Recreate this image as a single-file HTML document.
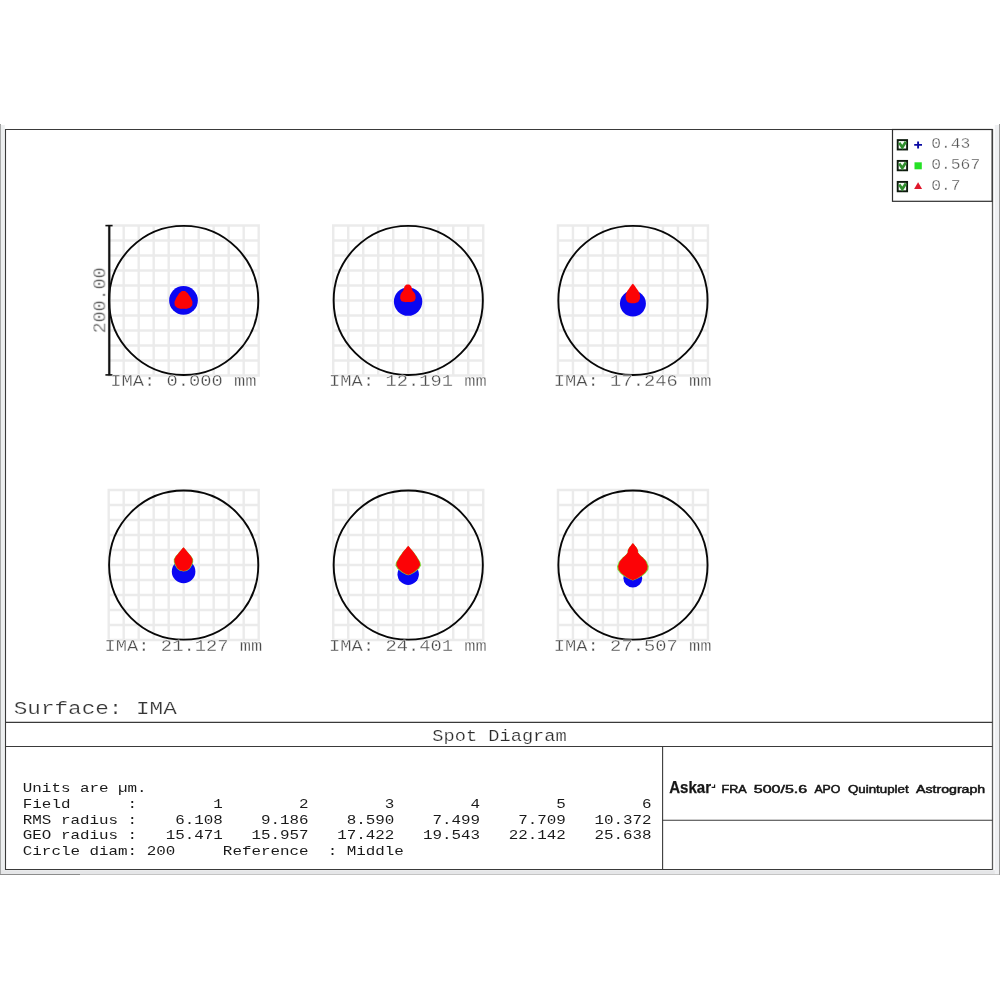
<!DOCTYPE html>
<html lang="en">
<head>
<meta charset="utf-8">
<title>Spot Diagram</title>
<style>
html,body{margin:0;padding:0;background:#fff;}
body{width:1000px;height:1000px;overflow:hidden;position:relative;}
svg{position:absolute;left:0;top:0;display:block;}
text{font-family:"Liberation Mono", "DejaVu Sans Mono", monospace;white-space:pre;}
#labels,#legendtext,#captions,#table,#brand{filter:url(#gs);}
.sans{font-family:"Liberation Sans", "DejaVu Sans", sans-serif;}
</style>
</head>
<body>
<svg width="1000" height="1000" viewBox="0 0 1000 1000">
<defs><filter id="gs" x="0" y="0" width="1000" height="1000" filterUnits="userSpaceOnUse" color-interpolation-filters="sRGB"><feColorMatrix type="saturate" values="0"/></filter></defs>

<g id="window-border">
<rect x="0" y="124" width="0.9" height="751" fill="#979797"/>
<rect x="0.9" y="125" width="3.9" height="749" fill="#edeff0"/>
<rect x="1" y="870.2" width="998" height="3.8" fill="#e5e6e8"/>
<rect x="0" y="874" width="80" height="1" fill="#8c8c8c"/>
<rect x="80" y="874" width="919" height="1" fill="#c4c4c4"/>
<rect x="994.8" y="125" width="4.2" height="749" fill="#eff0f2"/>
<rect x="999" y="124" width="1" height="751" fill="#9a9a9a"/>
</g>
<g id="frame" fill="none" stroke="#3a3a3a" stroke-width="1.1">
<path d="M992.5 129.5H5.5V869.5H992.5"/>
<line x1="992.5" y1="129.0" x2="992.5" y2="870.0" stroke="#5a5a5a" stroke-width="1.3"/>
<line x1="5.5" y1="722.4" x2="992.5" y2="722.4"/>
<line x1="5.5" y1="746.5" x2="992.5" y2="746.5"/>
<line x1="662.6" y1="746.5" x2="662.6" y2="869.5"/>
<line x1="662.6" y1="820.3" x2="992.5" y2="820.3"/>
</g>
<g id="field1">
<path d="M108.70 224.25V376.65M107.50 225.45H259.90M123.70 224.25V376.65M107.50 240.45H259.90M138.70 224.25V376.65M107.50 255.45H259.90M153.70 224.25V376.65M107.50 270.45H259.90M168.70 224.25V376.65M107.50 285.45H259.90M183.70 224.25V376.65M107.50 300.45H259.90M198.70 224.25V376.65M107.50 315.45H259.90M213.70 224.25V376.65M107.50 330.45H259.90M228.70 224.25V376.65M107.50 345.45H259.90M243.70 224.25V376.65M107.50 360.45H259.90M258.70 224.25V376.65M107.50 375.45H259.90" stroke="#ebebeb" stroke-width="2.4" fill="none"/>
<circle cx="183.70" cy="300.45" r="74.6" fill="none" stroke="#080808" stroke-width="1.9"/>
</g>
<g id="field2">
<path d="M333.25 224.25V376.65M332.05 225.45H484.45M348.25 224.25V376.65M332.05 240.45H484.45M363.25 224.25V376.65M332.05 255.45H484.45M378.25 224.25V376.65M332.05 270.45H484.45M393.25 224.25V376.65M332.05 285.45H484.45M408.25 224.25V376.65M332.05 300.45H484.45M423.25 224.25V376.65M332.05 315.45H484.45M438.25 224.25V376.65M332.05 330.45H484.45M453.25 224.25V376.65M332.05 345.45H484.45M468.25 224.25V376.65M332.05 360.45H484.45M483.25 224.25V376.65M332.05 375.45H484.45" stroke="#ebebeb" stroke-width="2.4" fill="none"/>
<circle cx="408.25" cy="300.45" r="74.6" fill="none" stroke="#080808" stroke-width="1.9"/>
</g>
<g id="field3">
<path d="M557.95 224.25V376.65M556.75 225.45H709.15M572.95 224.25V376.65M556.75 240.45H709.15M587.95 224.25V376.65M556.75 255.45H709.15M602.95 224.25V376.65M556.75 270.45H709.15M617.95 224.25V376.65M556.75 285.45H709.15M632.95 224.25V376.65M556.75 300.45H709.15M647.95 224.25V376.65M556.75 315.45H709.15M662.95 224.25V376.65M556.75 330.45H709.15M677.95 224.25V376.65M556.75 345.45H709.15M692.95 224.25V376.65M556.75 360.45H709.15M707.95 224.25V376.65M556.75 375.45H709.15" stroke="#ebebeb" stroke-width="2.4" fill="none"/>
<circle cx="632.95" cy="300.45" r="74.6" fill="none" stroke="#080808" stroke-width="1.9"/>
</g>
<g id="field4">
<path d="M108.70 488.85V641.25M107.50 490.05H259.90M123.70 488.85V641.25M107.50 505.05H259.90M138.70 488.85V641.25M107.50 520.05H259.90M153.70 488.85V641.25M107.50 535.05H259.90M168.70 488.85V641.25M107.50 550.05H259.90M183.70 488.85V641.25M107.50 565.05H259.90M198.70 488.85V641.25M107.50 580.05H259.90M213.70 488.85V641.25M107.50 595.05H259.90M228.70 488.85V641.25M107.50 610.05H259.90M243.70 488.85V641.25M107.50 625.05H259.90M258.70 488.85V641.25M107.50 640.05H259.90" stroke="#ebebeb" stroke-width="2.4" fill="none"/>
<circle cx="183.70" cy="565.05" r="74.6" fill="none" stroke="#080808" stroke-width="1.9"/>
</g>
<g id="field5">
<path d="M333.25 488.85V641.25M332.05 490.05H484.45M348.25 488.85V641.25M332.05 505.05H484.45M363.25 488.85V641.25M332.05 520.05H484.45M378.25 488.85V641.25M332.05 535.05H484.45M393.25 488.85V641.25M332.05 550.05H484.45M408.25 488.85V641.25M332.05 565.05H484.45M423.25 488.85V641.25M332.05 580.05H484.45M438.25 488.85V641.25M332.05 595.05H484.45M453.25 488.85V641.25M332.05 610.05H484.45M468.25 488.85V641.25M332.05 625.05H484.45M483.25 488.85V641.25M332.05 640.05H484.45" stroke="#ebebeb" stroke-width="2.4" fill="none"/>
<circle cx="408.25" cy="565.05" r="74.6" fill="none" stroke="#080808" stroke-width="1.9"/>
</g>
<g id="field6">
<path d="M557.95 488.85V641.25M556.75 490.05H709.15M572.95 488.85V641.25M556.75 505.05H709.15M587.95 488.85V641.25M556.75 520.05H709.15M602.95 488.85V641.25M556.75 535.05H709.15M617.95 488.85V641.25M556.75 550.05H709.15M632.95 488.85V641.25M556.75 565.05H709.15M647.95 488.85V641.25M556.75 580.05H709.15M662.95 488.85V641.25M556.75 595.05H709.15M677.95 488.85V641.25M556.75 610.05H709.15M692.95 488.85V641.25M556.75 625.05H709.15M707.95 488.85V641.25M556.75 640.05H709.15" stroke="#ebebeb" stroke-width="2.4" fill="none"/>
<circle cx="632.95" cy="565.05" r="74.6" fill="none" stroke="#080808" stroke-width="1.9"/>
</g>
<g id="scalebar" stroke="#111" fill="none">
<line x1="109.3" y1="225.3" x2="109.3" y2="375.2" stroke-width="2.2"/>
<line x1="105.4" y1="225.6" x2="112.6" y2="225.6" stroke-width="1.6"/>
<line x1="105.4" y1="374.9" x2="112.6" y2="374.9" stroke-width="1.6"/>
</g>
<g id="spots">
<circle cx="183.5" cy="300.4" r="14.35" fill="#0a06f2"/>
<path d="M183.50 291.10C185.50 291.10 184.63 290.83 186.50 292.20C188.37 293.57 187.40 292.67 189.10 295.20C190.80 297.73 190.50 297.07 191.60 299.80C192.70 302.53 192.57 301.13 192.40 303.40C192.23 305.67 192.67 304.90 191.10 306.60C189.53 308.30 190.23 307.77 187.70 308.50C185.17 309.23 186.30 308.80 183.50 308.80C180.70 308.80 181.83 309.23 179.30 308.50C176.77 307.77 177.47 308.30 175.90 306.60C174.33 304.90 174.77 305.67 174.60 303.40C174.43 301.13 174.30 302.53 175.40 299.80C176.50 297.07 176.20 297.73 177.90 295.20C179.60 292.67 178.63 293.57 180.50 292.20C182.37 290.83 181.50 291.10 183.50 291.10Z" fill="#fc0306"/>
<circle cx="408.1" cy="301.6" r="14.2" fill="#0a06f2"/>
<path d="M407.90 284.50C409.63 284.50 409.17 284.30 410.50 285.60C411.83 286.90 411.13 286.60 411.90 288.40C412.67 290.20 411.87 289.33 412.80 291.00C413.73 292.67 413.80 291.53 414.70 293.40C415.60 295.27 415.37 294.53 415.50 296.60C415.63 298.67 415.90 297.97 415.10 299.60C414.30 301.23 415.50 300.67 413.10 301.50C410.70 302.33 411.37 302.10 407.90 302.10C404.43 302.10 405.10 302.33 402.70 301.50C400.30 300.67 401.50 301.23 400.70 299.60C399.90 297.97 400.17 298.67 400.30 296.60C400.43 294.53 400.20 295.27 401.10 293.40C402.00 291.53 402.07 292.67 403.00 291.00C403.93 289.33 403.13 290.20 403.90 288.40C404.67 286.60 403.97 286.90 405.30 285.60C406.63 284.30 406.17 284.50 407.90 284.50Z" fill="#fc0306"/>
<circle cx="632.9" cy="303.6" r="13.0" fill="#0a06f2"/>
<path d="M632.85 283.80C633.38 284.33 633.22 283.83 634.45 285.40C635.68 286.97 634.95 285.97 636.55 288.50C638.15 291.03 638.12 290.10 639.25 293.00C640.38 295.90 640.02 294.73 639.95 297.20C639.88 299.67 640.15 298.60 639.05 300.40C637.95 302.20 638.72 301.63 636.65 302.60C634.58 303.57 635.38 303.30 632.85 303.30C630.32 303.30 631.12 303.57 629.05 302.60C626.98 301.63 627.75 302.20 626.65 300.40C625.55 298.60 625.82 299.67 625.75 297.20C625.68 294.73 625.32 295.90 626.45 293.00C627.58 290.10 627.55 291.03 629.15 288.50C630.75 285.97 630.02 286.97 631.25 285.40C632.48 283.83 632.32 284.33 632.85 283.80Z" fill="#fc0306"/>
<circle cx="183.6" cy="571.5" r="11.8" fill="#0a06f2"/>
<path d="M183.50 547.20C184.09 547.86 183.57 547.13 185.30 549.20C187.03 551.27 186.57 550.67 188.70 553.40C190.83 556.13 190.43 555.00 191.70 557.40C192.97 559.80 192.43 558.53 192.50 560.60C192.57 562.67 192.50 561.73 191.90 563.60C191.30 565.47 192.00 564.20 190.70 566.20C189.40 568.20 190.40 567.93 188.00 569.60C185.60 571.27 184.99 570.67 183.50 571.20C182.01 570.67 181.40 571.27 179.00 569.60C176.60 567.93 177.60 568.20 176.30 566.20C175.00 564.20 175.70 565.47 175.10 563.60C174.50 561.73 174.43 562.67 174.50 560.60C174.57 558.53 174.03 559.80 175.30 557.40C176.57 555.00 176.17 556.13 178.30 553.40C180.43 550.67 179.97 551.27 181.70 549.20C183.43 547.13 182.91 547.86 183.50 547.20Z" fill="#7ddc3c" transform="translate(183.5,0.35) scale(1.075,1) translate(-183.5,0)"/>
<path d="M183.50 547.20C184.09 547.86 183.57 547.13 185.30 549.20C187.03 551.27 186.57 550.67 188.70 553.40C190.83 556.13 190.43 555.00 191.70 557.40C192.97 559.80 192.43 558.53 192.50 560.60C192.57 562.67 192.50 561.73 191.90 563.60C191.30 565.47 192.00 564.20 190.70 566.20C189.40 568.20 190.40 567.93 188.00 569.60C185.60 571.27 184.99 570.67 183.50 571.20C182.01 570.67 181.40 571.27 179.00 569.60C176.60 567.93 177.60 568.20 176.30 566.20C175.00 564.20 175.70 565.47 175.10 563.60C174.50 561.73 174.43 562.67 174.50 560.60C174.57 558.53 174.03 559.80 175.30 557.40C176.57 555.00 176.17 556.13 178.30 553.40C180.43 550.67 179.97 551.27 181.70 549.20C183.43 547.13 182.91 547.86 183.50 547.20Z" fill="#fc0306"/>
<circle cx="408.2" cy="574.3" r="10.7" fill="#0a06f2"/>
<path d="M408.25 545.80C408.98 546.66 408.38 545.87 410.45 548.40C412.52 550.93 411.92 549.80 414.45 553.40C416.98 557.00 416.22 555.73 418.05 559.20C419.88 562.67 419.58 561.27 419.95 563.80C420.32 566.33 420.15 564.87 419.15 566.80C418.15 568.73 419.22 567.50 416.95 569.60C414.68 571.70 415.25 571.30 412.35 573.10C409.45 574.90 409.60 574.37 408.25 575.00C406.90 574.37 407.05 574.90 404.15 573.10C401.25 571.30 401.82 571.70 399.55 569.60C397.28 567.50 398.35 568.73 397.35 566.80C396.35 564.87 396.18 566.33 396.55 563.80C396.92 561.27 396.62 562.67 398.45 559.20C400.28 555.73 399.52 557.00 402.05 553.40C404.58 549.80 403.98 550.93 406.05 548.40C408.12 545.87 407.52 546.66 408.25 545.80Z" fill="#7ddc3c" transform="translate(408.25,0.35) scale(1.075,1) translate(-408.25,0)"/>
<path d="M408.25 545.80C408.98 546.66 408.38 545.87 410.45 548.40C412.52 550.93 411.92 549.80 414.45 553.40C416.98 557.00 416.22 555.73 418.05 559.20C419.88 562.67 419.58 561.27 419.95 563.80C420.32 566.33 420.15 564.87 419.15 566.80C418.15 568.73 419.22 567.50 416.95 569.60C414.68 571.70 415.25 571.30 412.35 573.10C409.45 574.90 409.60 574.37 408.25 575.00C406.90 574.37 407.05 574.90 404.15 573.10C401.25 571.30 401.82 571.70 399.55 569.60C397.28 567.50 398.35 568.73 397.35 566.80C396.35 564.87 396.18 566.33 396.55 563.80C396.92 561.27 396.62 562.67 398.45 559.20C400.28 555.73 399.52 557.00 402.05 553.40C404.58 549.80 403.98 550.93 406.05 548.40C408.12 545.87 407.52 546.66 408.25 545.80Z" fill="#fc0306"/>
<circle cx="632.8" cy="578.2" r="9.4" fill="#0a06f2"/>
<path d="M632.90 542.90C633.49 543.66 633.43 543.50 634.70 545.20C635.97 546.90 635.63 546.20 636.70 548.00C637.77 549.80 637.23 548.80 637.90 550.60C638.57 552.40 636.60 550.53 638.70 553.40C640.80 556.27 641.47 555.67 644.20 559.20C646.93 562.73 645.83 561.10 646.90 564.00C647.97 566.90 647.67 565.57 647.40 567.90C647.13 570.23 647.53 568.87 646.10 571.00C644.67 573.13 645.57 572.17 643.10 574.30C640.63 576.43 642.10 575.43 638.70 577.40C635.30 579.37 634.81 579.28 632.90 580.20C630.99 579.28 630.50 579.37 627.10 577.40C623.70 575.43 625.17 576.43 622.70 574.30C620.23 572.17 621.13 573.13 619.70 571.00C618.27 568.87 618.67 570.23 618.40 567.90C618.13 565.57 617.83 566.90 618.90 564.00C619.97 561.10 618.87 562.73 621.60 559.20C624.33 555.67 625.00 556.27 627.10 553.40C629.20 550.53 627.23 552.40 627.90 550.60C628.57 548.80 628.03 549.80 629.10 548.00C630.17 546.20 629.83 546.90 631.10 545.20C632.37 543.50 632.31 543.66 632.90 542.90Z" fill="#7ddc3c" transform="translate(632.9,0.35) scale(1.075,1) translate(-632.9,0)"/>
<path d="M632.90 542.90C633.49 543.66 633.43 543.50 634.70 545.20C635.97 546.90 635.63 546.20 636.70 548.00C637.77 549.80 637.23 548.80 637.90 550.60C638.57 552.40 636.60 550.53 638.70 553.40C640.80 556.27 641.47 555.67 644.20 559.20C646.93 562.73 645.83 561.10 646.90 564.00C647.97 566.90 647.67 565.57 647.40 567.90C647.13 570.23 647.53 568.87 646.10 571.00C644.67 573.13 645.57 572.17 643.10 574.30C640.63 576.43 642.10 575.43 638.70 577.40C635.30 579.37 634.81 579.28 632.90 580.20C630.99 579.28 630.50 579.37 627.10 577.40C623.70 575.43 625.17 576.43 622.70 574.30C620.23 572.17 621.13 573.13 619.70 571.00C618.27 568.87 618.67 570.23 618.40 567.90C618.13 565.57 617.83 566.90 618.90 564.00C619.97 561.10 618.87 562.73 621.60 559.20C624.33 555.67 625.00 556.27 627.10 553.40C629.20 550.53 627.23 552.40 627.90 550.60C628.57 548.80 628.03 549.80 629.10 548.00C630.17 546.20 629.83 546.90 631.10 545.20C632.37 543.50 632.31 543.66 632.90 542.90Z" fill="#fc0306"/>
</g>
<g id="labels">
<text transform="translate(183.40,385.95) scale(1.1920,1)" font-size="15.758" fill="#4c4c4c" text-anchor="middle" stroke="#fff" stroke-width="0.28" paint-order="fill stroke" >IMA: 0.000 mm</text>
<text transform="translate(407.95,385.95) scale(1.1920,1)" font-size="15.758" fill="#4c4c4c" text-anchor="middle" stroke="#fff" stroke-width="0.28" paint-order="fill stroke" >IMA: 12.191 mm</text>
<text transform="translate(632.65,385.95) scale(1.1920,1)" font-size="15.758" fill="#4c4c4c" text-anchor="middle" stroke="#fff" stroke-width="0.28" paint-order="fill stroke" >IMA: 17.246 mm</text>
<text transform="translate(183.40,650.55) scale(1.1920,1)" font-size="15.758" fill="#4c4c4c" text-anchor="middle" stroke="#fff" stroke-width="0.28" paint-order="fill stroke" >IMA: 21.127 mm</text>
<text transform="translate(407.95,650.55) scale(1.1920,1)" font-size="15.758" fill="#4c4c4c" text-anchor="middle" stroke="#fff" stroke-width="0.28" paint-order="fill stroke" >IMA: 24.401 mm</text>
<text transform="translate(632.65,650.55) scale(1.1920,1)" font-size="15.758" fill="#4c4c4c" text-anchor="middle" stroke="#fff" stroke-width="0.28" paint-order="fill stroke" >IMA: 27.507 mm</text>
<text transform="translate(105.3,300.4) rotate(-90) scale(1.0136,1)" font-size="18.088" fill="#505050" text-anchor="middle" stroke="#fff" stroke-width="0.32" paint-order="fill stroke">200.00</text>
</g>
<g id="legend">
<rect x="892.5" y="129.5" width="99.6" height="71.8" fill="#fff" stroke="#2e2e2e" stroke-width="1.2"/>
<rect x="897.7" y="140.10" width="9.4" height="9.4" fill="#f4faf4" stroke="#0c1a0c" stroke-width="1.9"/>
<path d="M899.2 142.80 L902.3 147.30 L905.9 141.80" fill="none" stroke="#2f8f2d" stroke-width="2.7"/>
<rect x="897.7" y="160.90" width="9.4" height="9.4" fill="#f4faf4" stroke="#0c1a0c" stroke-width="1.9"/>
<path d="M899.2 163.60 L902.3 168.10 L905.9 162.60" fill="none" stroke="#2f8f2d" stroke-width="2.7"/>
<rect x="897.7" y="181.90" width="9.4" height="9.4" fill="#f4faf4" stroke="#0c1a0c" stroke-width="1.9"/>
<path d="M899.2 184.60 L902.3 189.10 L905.9 183.60" fill="none" stroke="#2f8f2d" stroke-width="2.7"/>
<path d="M914.2 144.9H922M918.1 141.4V148.4" stroke="#0a0aa4" stroke-width="1.9" fill="none"/>
<rect x="914.5" y="162.3" width="7.3" height="7" fill="#25e125"/>
<path d="M918.1 182.3 L922.1 188.9 H914.1 Z" fill="#e0182c"/>
<g id="legendtext">
<text transform="translate(931.20,148.00) scale(1.0569,1)" font-size="15.455" fill="#545454" text-anchor="start" stroke="#fff" stroke-width="0.3" paint-order="fill stroke" >0.43</text>
<text transform="translate(931.20,169.00) scale(1.0569,1)" font-size="15.455" fill="#545454" text-anchor="start" stroke="#fff" stroke-width="0.3" paint-order="fill stroke" >0.567</text>
<text transform="translate(931.20,189.60) scale(1.0569,1)" font-size="15.455" fill="#545454" text-anchor="start" stroke="#fff" stroke-width="0.3" paint-order="fill stroke" >0.7</text>
</g>
</g>
<g id="captions">
<text transform="translate(13.70,713.50) scale(1.1873,1)" font-size="19.091" fill="#363636" text-anchor="start" stroke="#fff" stroke-width="0.22" paint-order="fill stroke" >Surface: IMA</text>
<text transform="translate(499.50,741.20) scale(1.1407,1)" font-size="16.364" fill="#2c2c2c" text-anchor="middle" stroke="#fff" stroke-width="0.2" paint-order="fill stroke" >Spot Diagram</text>
</g>
<g id="table">
<text transform="translate(22.80,792.25) scale(1.1912,1)" font-size="13.333" fill="#1a1a1a" text-anchor="start" >Units are µm.</text>
<text transform="translate(22.80,807.93) scale(1.1912,1)" font-size="13.333" fill="#1a1a1a" text-anchor="start" >Field      :        1        2        3        4        5        6</text>
<text transform="translate(22.80,823.61) scale(1.1912,1)" font-size="13.333" fill="#1a1a1a" text-anchor="start" >RMS radius :    6.108    9.186    8.590    7.499    7.709   10.372</text>
<text transform="translate(22.80,839.29) scale(1.1912,1)" font-size="13.333" fill="#1a1a1a" text-anchor="start" >GEO radius :   15.471   15.957   17.422   19.543   22.142   25.638</text>
<text transform="translate(22.80,854.97) scale(1.1912,1)" font-size="13.333" fill="#1a1a1a" text-anchor="start" >Circle diam: 200     Reference  : Middle</text>
</g>
<g id="brand" class="sans">
<text class="sans" x="669.2" y="793.1" font-size="15.7" font-weight="700" fill="#161616" stroke="#161616" stroke-width="0.25" textLength="41.8" lengthAdjust="spacingAndGlyphs">Askar</text>
<path d="M711.6 787.4H714.6V784.4" fill="none" stroke="#1c1c1c" stroke-width="1.2"/>
<text class="sans" x="721.5" y="793.0" font-size="10.2" fill="#141414" stroke="#141414" stroke-width="0.46" textLength="25.2" lengthAdjust="spacingAndGlyphs">FRA</text>
<text class="sans" x="753.8" y="793.0" font-size="10.2" fill="#141414" stroke="#141414" stroke-width="0.46" textLength="53.3" lengthAdjust="spacingAndGlyphs">500/5.6</text>
<text class="sans" x="814.4" y="793.0" font-size="10.2" fill="#141414" stroke="#141414" stroke-width="0.46" textLength="26.0" lengthAdjust="spacingAndGlyphs">APO</text>
<text class="sans" x="848.0" y="793.0" font-size="10.2" fill="#141414" stroke="#141414" stroke-width="0.46" textLength="60.7" lengthAdjust="spacingAndGlyphs">Quintuplet</text>
<text class="sans" x="916.0" y="793.0" font-size="10.2" fill="#141414" stroke="#141414" stroke-width="0.46" textLength="69.2" lengthAdjust="spacingAndGlyphs">Astrograph</text>
</g>
</svg>
</body>
</html>
